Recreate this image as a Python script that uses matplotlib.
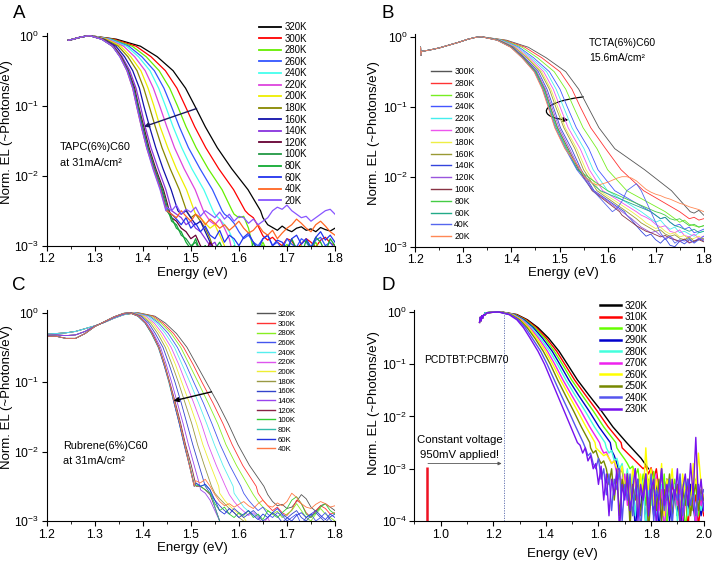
import numpy as np
import matplotlib
matplotlib.use("Agg")
import matplotlib.pyplot as plt
from matplotlib.ticker import MultipleLocator, LogLocator, NullLocator, FormatStrFormatter
from matplotlib.patches import FancyArrowPatch
from matplotlib.path import Path

plt.rcParams['font.family'] = ['Liberation Sans', 'DejaVu Sans']
plt.rcParams['mathtext.fontset'] = 'custom'
plt.rcParams['mathtext.rm'] = 'Liberation Sans'
plt.rcParams['mathtext.it'] = 'Liberation Sans:italic'

# ------------------------------------------------------------------ data
# Each curve: shared low-energy rising edge (E, log10 EL), then the energies at which the
# high-energy flank crosses fixed log10 levels, then a noisy tail (log10 EL) sampled on a grid.

# ---------- Panel A : TAPC(6%)C60
a_temps = [320, 300, 280, 260, 240, 220, 200, 180, 160, 140, 120, 100, 80, 60, 40, 20]
a_colors = ['#000000', '#ff0000', '#66ee00', '#3355ff', '#44ffee', '#dd44dd', '#eeee00', '#888800',
            '#1111aa', '#8833dd', '#660033', '#229944', '#11aa33', '#2233ee', '#ff6622', '#8855ff']
a_rise_e = [1.245, 1.255, 1.265, 1.275, 1.285]
a_rise_l = [-0.065, -0.05, -0.03, -0.015, -0.003]
a_levels = [0, -0.05, -0.15, -0.3, -0.5, -0.75, -1.0, -1.3, -1.6, -1.9, -2.2, -2.5]
a_body = [
    [1.290, 1.345, 1.395, 1.430, 1.463, 1.489, 1.508, 1.530, 1.555, 1.585, 1.619, 1.645],
    [1.290, 1.340, 1.386, 1.417, 1.447, 1.471, 1.488, 1.508, 1.531, 1.558, 1.589, 1.613],
    [1.290, 1.336, 1.378, 1.407, 1.434, 1.456, 1.472, 1.490, 1.511, 1.536, 1.565, 1.586],
    [1.290, 1.333, 1.371, 1.398, 1.424, 1.444, 1.459, 1.476, 1.495, 1.519, 1.545, 1.565],
    [1.290, 1.330, 1.366, 1.391, 1.415, 1.433, 1.447, 1.463, 1.481, 1.502, 1.527, 1.546],
    [1.290, 1.327, 1.360, 1.383, 1.405, 1.422, 1.435, 1.450, 1.466, 1.486, 1.509, 1.526],
    [1.290, 1.324, 1.354, 1.375, 1.396, 1.411, 1.423, 1.436, 1.452, 1.470, 1.491, 1.507],
    [1.290, 1.321, 1.349, 1.369, 1.388, 1.402, 1.413, 1.426, 1.440, 1.457, 1.476, 1.491],
    [1.290, 1.318, 1.344, 1.362, 1.379, 1.393, 1.402, 1.414, 1.427, 1.442, 1.459, 1.473],
    [1.290, 1.316, 1.340, 1.357, 1.373, 1.386, 1.395, 1.405, 1.417, 1.432, 1.448, 1.460],
    [1.290, 1.316, 1.339, 1.355, 1.370, 1.383, 1.391, 1.402, 1.413, 1.427, 1.443, 1.455],
    [1.290, 1.315, 1.338, 1.354, 1.369, 1.381, 1.390, 1.400, 1.411, 1.425, 1.441, 1.453],
    [1.290, 1.315, 1.337, 1.353, 1.368, 1.380, 1.388, 1.398, 1.410, 1.423, 1.439, 1.450],
    [1.290, 1.315, 1.337, 1.353, 1.368, 1.380, 1.388, 1.398, 1.409, 1.423, 1.438, 1.450],
    [1.290, 1.315, 1.337, 1.353, 1.367, 1.379, 1.387, 1.397, 1.408, 1.422, 1.437, 1.449],
    [1.290, 1.314, 1.337, 1.352, 1.367, 1.379, 1.387, 1.397, 1.408, 1.421, 1.436, 1.448],
]
a_tail_grid = np.round(np.arange(1.45, 1.8001, 0.01), 2)
a_tails = [
    [-2.6, -2.7, -2.74, -2.78, -2.72, -2.77, -2.8, -2.75, -2.73, -2.78, -2.76, -2.8, -2.74, -2.77, -2.79, -2.75],
    [-2.55, -2.6, -2.72, -2.86, -2.92, -2.88, -2.95, -3.0, -2.9, -2.93, -3.05, -2.97, -2.9, -2.95, -3.02, -2.92, -2.88, -2.96, -3.0],
    [-2.55, -2.6, -2.58, -2.75, -3.05, -3.1, -2.95, -3.1, -3.0, -3.15, -3.05, -2.98, -3.1, -3.2, -3.0, -3.1, -3.05, -2.95, -3.1, -3.0, -3.15, -3.05],
    [-2.55, -2.6, -2.68, -2.8, -2.9, -2.85, -2.95, -3.0, -2.9, -2.85, -3.0, -2.95, -3.05, -2.9, -2.98, -3.02, -2.9, -2.95, -3.05, -2.92, -2.88, -3.0, -2.95, -3.05],
    [-2.55, -2.62, -2.7, -2.8, -2.95, -3.2],
    [-2.55, -2.65, -2.7, -2.62, -2.75, -2.9, -3.2],
    [-2.55, -2.6, -2.68, -2.75, -2.7, -2.85, -3.0, -3.2],
    [-2.6, -2.55, -2.65, -2.75, -2.9, -3.1, -3.2],
    [-2.55, -2.5, -2.6, -2.7, -2.65, -2.8, -2.95, -3.2],
    [-2.55, -2.6, -2.7, -2.65, -2.75, -2.8, -2.9, -3.0, -2.95, -3.1, -3.2],
    [-2.6, -2.65, -2.75, -2.8, -2.9, -2.85, -3.0, -3.1, -2.95, -3.05, -3.2],
    [-2.65, -2.7, -2.85, -2.9, -3.0, -2.95, -3.1, -3.0, -3.15, -3.2],
    [-2.6, -2.75, -2.8, -2.95, -3.05, -2.9, -3.1, -3.0, -3.15, -3.05, -2.95, -3.1, -3.2, -3.0, -3.1, -3.05, -3.2, -2.95,
     -3.1, -3.0, -3.15, -3.05, -3.2, -3.0, -3.1, -2.9, -3.05, -3.15, -2.92, -3.05, -2.88, -2.95, -3.1, -2.9, -3.0],
    [-2.55, -2.62, -2.7, -2.6, -2.75, -2.68, -2.8, -2.72, -2.85, -2.9, -2.78, -2.95, -2.85, -2.9, -3.0, -2.88, -2.82, -2.95,
     -3.05, -2.9, -2.85, -3.0, -2.92, -2.95, -3.05, -2.9, -2.85, -2.98, -2.9, -3.02, -2.88, -2.8, -2.92, -2.85, -2.95],
    [-2.5, -2.55, -2.6, -2.5, -2.58, -2.65, -2.55, -2.6, -2.7, -2.62, -2.68, -2.75, -2.7, -2.78, -2.72, -2.65, -2.75, -2.82,
     -2.78, -2.7, -2.8, -2.85, -2.78, -2.9, -2.82, -2.75, -2.7, -2.62, -2.68, -2.75, -2.8, -2.7, -2.65, -2.72, -2.8, -2.85],
    [-2.45, -2.5, -2.42, -2.55, -2.48, -2.52, -2.45, -2.58, -2.5, -2.55, -2.6, -2.52, -2.62, -2.55, -2.65, -2.58, -2.6, -2.68,
     -2.62, -2.7, -2.65, -2.6, -2.5, -2.45, -2.48, -2.42, -2.5, -2.55, -2.6, -2.58, -2.65, -2.6, -2.55, -2.5, -2.48, -2.55],
]

# ---------- Panel B : TCTA(6%)C60
b_temps = [300, 280, 260, 240, 220, 200, 180, 160, 140, 120, 100, 80, 60, 40, 20]
b_colors = ['#555555', '#ff3333', '#77ee22', '#4455ff', '#44eeee', '#ee55ee', '#eeee44', '#999933',
            '#3344dd', '#9955dd', '#883344', '#44cc44', '#22aa88', '#5566ee', '#ff8855']
b_rise_e = [1.211, 1.2115, 1.213, 1.23, 1.25, 1.27, 1.29, 1.31, 1.325]
b_rise_l = [-0.15, -0.27, -0.21, -0.19, -0.16, -0.12, -0.08, -0.035, -0.01]
b_levels = [0, -0.05, -0.15, -0.3, -0.5, -0.75, -1.0, -1.3, -1.6, -1.9, -2.2, -2.5]
b_body = [
    [1.337, 1.390, 1.435, 1.472, 1.513, 1.540, 1.559, 1.582, 1.615, 1.677, 1.733, 1.772],
    [1.337, 1.386, 1.428, 1.463, 1.501, 1.526, 1.543, 1.565, 1.596, 1.628, 1.675, 1.750],
    [1.337, 1.383, 1.422, 1.454, 1.489, 1.513, 1.529, 1.549, 1.578, 1.600, 1.640, 1.720],
    [1.337, 1.380, 1.416, 1.446, 1.479, 1.501, 1.516, 1.535, 1.561, 1.580, 1.615, 1.690],
    [1.337, 1.378, 1.413, 1.441, 1.473, 1.493, 1.508, 1.526, 1.551, 1.570, 1.600, 1.670],
    [1.337, 1.376, 1.410, 1.437, 1.467, 1.487, 1.501, 1.518, 1.543, 1.562, 1.590, 1.660],
    [1.337, 1.375, 1.407, 1.434, 1.463, 1.482, 1.496, 1.512, 1.536, 1.555, 1.583, 1.650],
    [1.337, 1.374, 1.406, 1.432, 1.460, 1.479, 1.492, 1.509, 1.532, 1.550, 1.578, 1.640],
    [1.337, 1.373, 1.403, 1.428, 1.456, 1.474, 1.487, 1.502, 1.525, 1.545, 1.572, 1.635],
    [1.337, 1.372, 1.402, 1.426, 1.453, 1.471, 1.484, 1.499, 1.521, 1.542, 1.570, 1.630],
    [1.337, 1.372, 1.401, 1.425, 1.451, 1.469, 1.481, 1.496, 1.518, 1.540, 1.568, 1.625],
    [1.337, 1.371, 1.400, 1.424, 1.451, 1.468, 1.480, 1.495, 1.516, 1.538, 1.600, 1.700],
    [1.337, 1.371, 1.399, 1.423, 1.449, 1.466, 1.478, 1.493, 1.514, 1.537, 1.585, 1.690],
    [1.337, 1.370, 1.399, 1.422, 1.448, 1.465, 1.477, 1.491, 1.512, 1.536, 1.570, 1.610],
    [1.337, 1.370, 1.398, 1.422, 1.447, 1.464, 1.476, 1.490, 1.511, 1.545],
]
b_tail_grid = np.round(np.arange(1.55, 1.8001, 0.01), 2)
b_tails = [
    [-2.52, -2.48, -2.55],
    [-2.55, -2.6, -2.58, -2.62, -2.6],
    [-2.55, -2.6, -2.65, -2.62, -2.68, -2.7, -2.72, -2.7],
    [-2.55, -2.6, -2.58, -2.65, -2.7, -2.68, -2.75, -2.72, -2.8, -2.78, -2.75],
    [-2.55, -2.6, -2.65, -2.62, -2.7, -2.75, -2.72, -2.8, -2.78, -2.82, -2.85, -2.8, -2.78],
    [-2.55, -2.58, -2.62, -2.68, -2.72, -2.7, -2.78, -2.8, -2.76, -2.84, -2.86, -2.82, -2.88, -2.85],
    [-2.55, -2.6, -2.66, -2.7, -2.74, -2.72, -2.78, -2.82, -2.8, -2.86, -2.84, -2.9, -2.88, -2.85, -2.9],
    [-2.55, -2.6, -2.66, -2.7, -2.74, -2.78, -2.76, -2.82, -2.85, -2.83, -2.88, -2.9, -2.86, -2.92, -2.9, -2.88],
    [-2.55, -2.62, -2.7, -2.78, -2.85, -2.82, -2.9, -2.95, -2.88, -2.98, -3.0, -2.92, -2.96, -2.9, -2.94, -2.88, -2.92],
    [-2.55, -2.6, -2.66, -2.72, -2.76, -2.8, -2.78, -2.84, -2.88, -2.85, -2.9, -2.93, -2.9, -2.95, -2.92, -2.88, -2.9],
    [-2.55, -2.6, -2.65, -2.7, -2.74, -2.78, -2.8, -2.83, -2.86, -2.84, -2.88, -2.9, -2.92, -2.89, -2.94, -2.92, -2.9, -2.93],
    [-2.52, -2.55, -2.6, -2.62, -2.6, -2.65, -2.7, -2.68, -2.72, -2.7],
    [-2.55, -2.6, -2.58, -2.65, -2.7, -2.72, -2.75, -2.78, -2.75, -2.8, -2.78],
    [-2.45, -2.35, -2.2, -2.15, -2.1, -2.2, -2.35, -2.5, -2.65, -2.8, -2.9, -2.85, -2.95, -2.9, -2.92, -2.88, -2.95, -2.9, -2.85],
    [-1.98, -2.05, -2.1, -2.12, -2.1, -2.08, -2.05, -2.02, -2.0, -2.0, -2.02, -2.06, -2.12, -2.18, -2.22, -2.25, -2.27,
     -2.3, -2.32, -2.35, -2.38, -2.4, -2.43, -2.45, -2.47, -2.5],
]

# ---------- Panel C : Rubrene(6%)C60
c_temps = [320, 300, 280, 260, 240, 220, 200, 180, 160, 140, 120, 100, 80, 60, 40]
c_colors = ['#555555', '#ff3333', '#88ee22', '#4455ee', '#55eeee', '#dd55ee', '#eeee33', '#999944',
            '#3344cc', '#9944ee', '#882244', '#33cc33', '#33bbaa', '#2233dd', '#ff7744']
c_rise_e = [1.20, 1.22, 1.24, 1.26, 1.28, 1.30, 1.32, 1.34, 1.36]
c_rise_hot = [-0.31, -0.30, -0.29, -0.27, -0.23, -0.19, -0.14, -0.08, -0.03]
c_rise_mid = [-0.325, -0.32, -0.33, -0.32, -0.27, -0.195, -0.135, -0.07, -0.02]
c_rise_cold = [-0.34, -0.34, -0.37, -0.37, -0.30, -0.20, -0.13, -0.06, -0.01]
c_rise_group = [0, 0, 0, 0, 0, 1, 1, 1, 1, 1, 2, 2, 2, 2, 2]
c_levels = [0, -0.05, -0.15, -0.3, -0.5, -0.75, -1.0, -1.3, -1.6, -1.9, -2.2, -2.5]
c_body = [
    [1.390, 1.425, 1.447, 1.470, 1.492, 1.512, 1.532, 1.556, 1.578, 1.598, 1.622, 1.652],
    [1.388, 1.421, 1.442, 1.464, 1.485, 1.505, 1.523, 1.546, 1.567, 1.586, 1.608, 1.636],
    [1.386, 1.417, 1.438, 1.459, 1.479, 1.497, 1.515, 1.536, 1.556, 1.573, 1.595, 1.620],
    [1.384, 1.414, 1.433, 1.453, 1.472, 1.490, 1.506, 1.526, 1.544, 1.561, 1.581, 1.604],
    [1.382, 1.410, 1.429, 1.447, 1.466, 1.482, 1.498, 1.516, 1.533, 1.549, 1.567, 1.588],
    [1.380, 1.406, 1.424, 1.441, 1.459, 1.475, 1.489, 1.506, 1.522, 1.536, 1.553, 1.572],
    [1.378, 1.402, 1.420, 1.436, 1.453, 1.468, 1.481, 1.497, 1.512, 1.525, 1.541, 1.558],
    [1.377, 1.399, 1.416, 1.431, 1.447, 1.461, 1.474, 1.488, 1.502, 1.514, 1.528, 1.543],
    [1.375, 1.396, 1.412, 1.426, 1.442, 1.455, 1.467, 1.480, 1.492, 1.504, 1.517, 1.530],
    [1.373, 1.393, 1.408, 1.422, 1.437, 1.449, 1.460, 1.472, 1.484, 1.495, 1.507, 1.519],
    [1.373, 1.391, 1.406, 1.420, 1.434, 1.446, 1.456, 1.468, 1.479, 1.489, 1.501, 1.511],
    [1.372, 1.390, 1.405, 1.418, 1.433, 1.445, 1.455, 1.466, 1.477, 1.487, 1.498, 1.508],
    [1.372, 1.390, 1.405, 1.418, 1.432, 1.444, 1.454, 1.465, 1.476, 1.486, 1.497, 1.507],
    [1.372, 1.390, 1.405, 1.419, 1.433, 1.444, 1.455, 1.465, 1.476, 1.486, 1.497, 1.507],
    [1.372, 1.391, 1.406, 1.419, 1.433, 1.445, 1.455, 1.466, 1.477, 1.487, 1.497, 1.507],
]
c_tail_grid = np.round(np.arange(1.50, 1.8001, 0.01), 2)
c_tails = [
    [-2.62, -2.72, -2.78, -2.76, -2.82, -2.8, -2.72, -2.62, -2.68, -2.8, -2.86, -2.78, -2.75, -2.8, -2.85],
    [-2.6, -2.7, -2.78, -2.85, -2.8, -2.88, -2.92, -2.84, -2.7, -2.75, -2.88, -2.95, -2.85, -2.78, -2.82, -2.9, -2.88],
    [-2.62, -2.72, -2.8, -2.85, -2.9, -2.86, -2.95, -2.9, -2.85, -2.75, -2.85, -2.95, -3.0, -2.9, -2.82, -2.9, -2.95, -3.0],
    [-2.6, -2.7, -2.78, -2.85, -2.8, -2.9, -2.95, -2.88, -2.92, -3.0, -2.95, -2.9, -3.05, -2.95, -2.9, -3.0, -2.95, -2.88, -2.98, -3.05],
    [-2.6, -2.7, -2.8, -2.86, -2.9, -2.95, -3.05, -3.1, -3.2],
    [-2.62, -2.72, -2.8, -2.86, -2.92, -2.88, -2.95, -3.05, -2.95, -3.1, -3.2],
    [-2.6, -2.7, -2.78, -2.84, -2.9, -2.95, -3.05, -3.2],
    [-2.6, -2.68, -2.75, -2.82, -2.88, -2.95, -3.0, -3.1, -3.2],
    [-2.6, -2.7, -2.78, -2.85, -2.9, -2.82, -2.88, -2.95, -2.9, -2.85, -2.92, -3.0, -2.95, -2.88, -2.93, -3.02, -2.96,
     -2.9, -2.85, -2.95, -3.0, -2.92, -2.88, -2.95, -3.02, -2.94, -2.9],
    [-2.55, -2.6, -2.7, -2.85, -3.0, -3.1, -3.2],
    [-2.5, -2.55, -2.62, -2.8, -3.0, -3.2],
    [-2.48, -2.5, -2.55, -2.6, -2.75, -2.85, -2.8, -2.9, -2.95, -2.88, -2.92, -2.85, -2.95, -2.9, -2.98, -2.85, -2.9,
     -2.95, -2.88, -2.82, -2.7, -2.65, -2.75, -2.9, -2.95, -2.88, -2.8, -2.75, -2.85, -2.9],
    [-2.45, -2.5, -2.48, -2.55, -2.8, -3.0, -3.2],
    [-2.45, -2.5, -2.47, -2.55, -2.7, -2.85, -2.9, -2.82, -2.88, -2.95, -2.9, -2.85, -2.92, -2.98, -2.9, -2.95, -2.88,
     -2.82, -2.9, -2.95, -3.0, -2.92, -2.88, -2.95, -2.9, -2.85, -2.92, -2.98, -2.9, -2.95],
    [-2.42, -2.45, -2.4, -2.5, -2.62, -2.72, -2.78, -2.75, -2.8, -2.76, -2.72, -2.78, -2.82, -2.75, -2.7, -2.78, -2.8,
     -2.74, -2.78, -2.72, -2.6, -2.66, -2.75, -2.8, -2.82, -2.76, -2.72, -2.75, -2.8, -2.78],
]

# ---------- Panel D : PCDTBT:PCBM70
d_temps = [320, 310, 300, 290, 280, 270, 260, 250, 240, 230]
d_colors = ['#000000', '#ff0000', '#66ff00', '#0000cc', '#44ffdd', '#ee22ee', '#ffff00', '#778800', '#5555ee', '#7711ee']
d_rise_hot_e = [1.168, 1.18, 1.195, 1.21]
d_rise_hot_l = [-0.02, -0.012, -0.005, -0.002]
d_rise_cold_e = [1.148, 1.151, 1.154, 1.157, 1.16, 1.164, 1.168, 1.175, 1.19, 1.205]
d_rise_cold_l = [-0.2, -0.1, -0.17, -0.07, -0.12, -0.05, -0.06, -0.02, -0.01, -0.003]
d_rise_group = [0, 0, 0, 0, 0, 1, 1, 1, 1, 1]
d_levels = [0, -0.05, -0.15, -0.3, -0.5, -0.75, -1.0, -1.3, -1.6, -1.9, -2.2, -2.5, -2.8, -3.0]
d_body = [
    [1.230, 1.290, 1.330, 1.370, 1.410, 1.450, 1.482, 1.520, 1.565, 1.612, 1.655, 1.707, 1.762, 1.790],
    [1.229, 1.287, 1.326, 1.364, 1.402, 1.441, 1.472, 1.509, 1.552, 1.596, 1.637, 1.686],
    [1.228, 1.283, 1.321, 1.358, 1.395, 1.432, 1.463, 1.498, 1.539, 1.581, 1.620, 1.666],
    [1.227, 1.280, 1.317, 1.352, 1.387, 1.424, 1.453, 1.487, 1.525, 1.565, 1.602, 1.645],
    [1.226, 1.277, 1.312, 1.346, 1.379, 1.415, 1.444, 1.476, 1.512, 1.550, 1.585, 1.625],
    [1.225, 1.274, 1.308, 1.340, 1.372, 1.406, 1.434, 1.465, 1.499, 1.534, 1.567, 1.604],
    [1.224, 1.271, 1.304, 1.335, 1.365, 1.399, 1.426, 1.456, 1.488, 1.521, 1.553, 1.587],
    [1.223, 1.268, 1.300, 1.329, 1.358, 1.390, 1.417, 1.445, 1.475, 1.506, 1.535, 1.567],
    [1.221, 1.264, 1.295, 1.322, 1.348, 1.380, 1.405, 1.432, 1.459, 1.487, 1.514, 1.542],
    [1.220, 1.260, 1.290, 1.315, 1.340, 1.370, 1.395, 1.420, 1.445, 1.470, 1.495, 1.520],
]
d_tail_grid = np.round(np.arange(1.40, 2.0001, 0.01), 2)
d_tails = [
    [],
    [-2.6, -2.65, -2.7, -2.75, -2.8, -2.85, -2.9, -2.95, -3.0, -2.95, -3.1, -2.98, -3.2, -3.0, -3.4, -3.1, -3.6, -3.2,
     -3.8, -3.3, -3.5, -3.9, -3.2, -3.7, -3.4, -4.2, -3.3, -3.8, -3.5, -4.1, -3.6, -3.9],
    [-2.6, -2.68, -2.75, -2.82, -2.9, -3.0, -2.95, -3.15, -3.0, -3.4, -3.1, -3.7, -3.2, -3.5, -3.05, -3.8, -3.3, -3.6,
     -3.1, -4.1, -3.4, -3.7, -3.2, -3.9, -3.5, -3.3, -4.2, -3.6, -3.4, -3.8, -3.2, -3.9, -3.5, -3.7],
    [-2.65, -2.75, -2.9, -3.1, -3.0, -3.4, -3.2, -3.9, -3.3, -4.2, -3.5, -3.8, -3.2, -4.1, -3.6, -3.4, -3.9, -3.3, -4.2,
     -3.5, -3.7, -3.2, -4.0, -3.6, -3.3, -3.9, -3.5, -4.2, -3.4, -3.8, -3.3, -3.7, -4.1, -3.5, -3.9, -3.6],
    [-2.6, -2.7, -2.65, -2.85, -2.8, -3.0, -2.9, -3.3, -3.0, -3.6, -3.1, -3.9, -3.3, -3.5, -3.2, -4.1, -3.4, -3.7, -3.3,
     -3.9, -3.5, -3.3, -4.2, -3.6, -3.4, -3.8, -3.3, -4.0, -3.5, -3.7, -3.2, -3.9, -3.6, -3.4, -4.1, -3.5, -3.8, -3.6],
    [-2.6, -2.7, -2.68, -2.8, -2.9, -2.85, -3.1, -3.0, -3.4, -3.1, -3.7, -3.2, -3.5, -3.0, -3.9, -3.3, -3.6, -3.2, -4.1,
     -3.4, -3.6, -3.1, -3.8, -3.4, -4.2, -3.5, -3.3, -3.9, -3.4, -3.7, -3.2, -4.0, -3.6, -3.3, -3.8, -3.5, -4.1, -3.4, -3.7, -3.5],
    [-2.6, -2.65, -2.7, -2.75, -2.72, -2.8, -2.9, -2.85, -3.0, -3.2, -2.95, -3.4, -3.1, -3.6, -3.0, -3.3, -3.8, -3.1,
     -3.5, -2.6, -3.4, -3.0, -3.7, -3.2, -3.5, -2.9, -3.9, -3.2, -3.4, -3.0, -3.6, -3.3, -4.0, -3.1, -3.5, -3.2, -3.8,
     -2.9, -3.4, -2.7, -3.3, -3.6],
    [-2.6, -2.7, -2.65, -2.8, -2.9, -2.85, -3.0, -3.3, -3.0, -3.6, -3.1, -3.9, -3.2, -3.5, -3.1, -4.1, -3.3, -3.6, -3.2,
     -3.9, -3.4, -3.1, -4.2, -3.5, -3.3, -3.8, -3.2, -4.0, -3.4, -3.6, -3.1, -3.9, -3.5, -3.3, -4.1, -3.4, -3.7, -3.2,
     -3.9, -3.5, -3.3, -3.8, -3.4, -3.6],
    [-2.6, -2.75, -2.7, -2.9, -3.0, -2.8, -3.2, -3.0, -3.5, -3.1, -3.8, -3.2, -3.4, -3.0, -4.0, -3.3, -3.6, -3.1, -3.9,
     -3.4, -3.2, -4.2, -3.5, -3.3, -3.7, -3.1, -4.0, -3.4, -3.6, -3.0, -3.8, -3.5, -3.2, -4.1, -3.4, -3.6, -3.1, -3.9,
     -3.5, -3.2, -3.7, -3.4, -3.9, -3.3, -3.6, -3.4],
    [-2.55, -2.7, -2.6, -2.85, -2.75, -3.0, -2.9, -3.3, -2.95, -3.6, -3.1, -3.9, -3.2, -3.5, -3.0, -4.2, -3.3, -3.6, -3.1,
     -3.8, -3.4, -3.0, -4.0, -3.3, -3.6, -3.1, -3.9, -3.4, -3.2, -4.1, -3.5, -3.0, -3.7, -3.3, -3.9, -3.2, -3.6, -3.0,
     -4.0, -3.4, -3.1, -3.7, -2.9, -3.5, -2.4, -3.6, -3.2, -3.8],
]
d_bias_e = 0.95          # applied voltage marker (eV)
d_bias_top = 1.1e-3
d_peak_mark = 1.24

# ------------------------------------------------------------------ drawing
W, H = 714, 562
fig = plt.figure(figsize=(W / 100, H / 100), dpi=100)


def px_axes(x0, y0, x1, y1):
    return fig.add_axes([x0 / W, 1 - y1 / H, (x1 - x0) / W, (y1 - y0) / H])


def style(ax, xlim, ylim, xmaj, xmin):
    ax.set_yscale('log')
    ax.set_xlim(*xlim)
    ax.set_ylim(*ylim)
    ax.xaxis.set_major_locator(MultipleLocator(xmaj))
    ax.xaxis.set_minor_locator(MultipleLocator(xmin))
    ax.yaxis.set_major_locator(LogLocator(base=10, numticks=10))
    ax.yaxis.set_minor_locator(NullLocator())
    for s in ['top', 'right']:
        ax.spines[s].set_visible(False)
    for s in ['left', 'bottom']:
        ax.spines[s].set_linewidth(0.8)
    ax.tick_params(which='major', direction='out', length=3.5, width=0.8, labelsize=8.7, pad=2)
    ax.tick_params(which='minor', direction='out', length=2, width=0.6)
    ax.set_xlabel('Energy (eV)', fontsize=9.5)
    ax.set_ylabel('Norm. EL (~Photons/eV)', fontsize=9.5)
    ax.xaxis.label.set_va('center')
    ax.yaxis.label.set_va('center')


def draw(ax, rises, groups, levels, bodies, tgrid, tails, colors, temps, lw):
    for i in range(len(bodies)):
        re_, rl_ = rises[groups[i]]
        be = np.array(bodies[i])
        bl = np.array(levels[:len(be)])
        te = tgrid[tgrid > be[-1] + 1e-6]
        n = min(len(te), len(tails[i]))
        e = np.concatenate([re_, be, te[:n]])
        lv = np.concatenate([rl_, bl, np.array(tails[i][:n], dtype=float)])
        ax.plot(e, 10.0 ** lv, color=colors[i], lw=lw, label=f'{temps[i]}K', solid_joinstyle='round')


def legend(ax, x, y, fs, ls, hl, lw=None):
    leg = ax.legend(loc='upper left', bbox_to_anchor=(x / W, 1 - y / H), bbox_transform=fig.transFigure,
                    frameon=False, fontsize=fs, labelspacing=ls, handlelength=hl, handletextpad=0.4,
                    borderpad=0, borderaxespad=0)
    if lw:
        for h in leg.get_lines():
            h.set_linewidth(lw)
    return leg


# ---- A
axA = px_axes(46.7, 32.8, 335.0, 245.7)
style(axA, (1.2, 1.8), (1e-3, 1.1), 0.1, 0.05)
draw(axA, [(a_rise_e, a_rise_l)], [0] * len(a_body), a_levels, a_body, a_tail_grid, a_tails,
     a_colors, a_temps, 0.9)
legend(axA, 258.7, 22.0, 6.9, 0.165, 2.3, 1.3)
axA.text(1.228, 10 ** -1.586, 'TAPC(6%)C60', fontsize=7.8, va='center', ha='left')
axA.text(1.228, 10 ** -1.814, 'at 31mA/cm²', fontsize=7.8, va='center', ha='left')
axA.annotate('', xy=(1.4025, 10 ** -1.30), xytext=(1.512, 10 ** -1.04),
             arrowprops=dict(arrowstyle='-|>', color='#1a1a5e', lw=1.0, mutation_scale=7,
                             shrinkA=0, shrinkB=0))
axA.xaxis.set_label_coords(0.507, -0.127)
axA.yaxis.set_label_coords(-0.137, 0.533)

# ---- B
axB = px_axes(415.3, 33.8, 703.7, 246.7)
style(axB, (1.2, 1.8), (1e-3, 1.1), 0.1, 0.05)
draw(axB, [(b_rise_e, b_rise_l)], [0] * len(b_body), b_levels, b_body, b_tail_grid, b_tails,
     b_colors, b_temps, 0.6)
legend(axB, 431.0, 67.0, 6.2, 0.326, 2.3, 1.0)
axB.text(1.561, 10 ** -0.094, 'TCTA(6%)C60', fontsize=7.5, va='center', ha='left')
axB.text(1.561, 10 ** -0.31, '15.6mA/cm²', fontsize=7.5, va='center', ha='left')
arc = Path([(1.5495, 10 ** -0.86), (1.452, 10 ** -0.94), (1.455, 10 ** -1.16), (1.5183, 10 ** -1.19)],
           [Path.MOVETO, Path.CURVE4, Path.CURVE4, Path.CURVE4])
axB.add_patch(FancyArrowPatch(path=arc, arrowstyle='-|>', mutation_scale=7, lw=0.9, color='k',
                              transform=axB.transData))
axB.xaxis.set_label_coords(0.515, -0.123)
axB.yaxis.set_label_coords(-0.143, 0.532)

# ---- C
axC = px_axes(46.7, 309.8, 335.0, 521.0)
style(axC, (1.2, 1.8), (1e-3, 1.1), 0.1, 0.05)
draw(axC, [(c_rise_e, c_rise_hot), (c_rise_e, c_rise_mid), (c_rise_e, c_rise_cold)], c_rise_group,
     c_levels, c_body, c_tail_grid, c_tails, c_colors, c_temps, 0.6)
legend(axC, 256.7, 310.5, 5.6, 0.285, 2.3, 1.0)
axC.text(1.2345, 10 ** -1.92, 'Rubrene(6%)C60', fontsize=7.8, va='center', ha='left')
axC.text(1.2345, 10 ** -2.14, 'at 31mA/cm²', fontsize=7.8, va='center', ha='left')
axC.annotate('', xy=(1.464, 10 ** -1.27), xytext=(1.543, 10 ** -1.14),
             arrowprops=dict(arrowstyle='-|>', color='k', lw=1.0, mutation_scale=7, shrinkA=0, shrinkB=0))
axC.xaxis.set_label_coords(0.507, -0.126)
axC.yaxis.set_label_coords(-0.137, 0.588)

# ---- D
axD = px_axes(414.3, 309.8, 703.7, 521.0)
style(axD, (0.9, 2.0), (1e-4, 1.1), 0.2, 0.1)
axD.xaxis.set_major_formatter(FormatStrFormatter('%.1f'))
draw(axD, [(d_rise_hot_e, d_rise_hot_l), (d_rise_cold_e, d_rise_cold_l)], d_rise_group, d_levels,
     d_body, d_tail_grid, d_tails, d_colors, d_temps, 1.0)
legend(axD, 600.3, 300.8, 7.1, 0.15, 2.1, 1.8)
axD.plot([d_peak_mark, d_peak_mark], [1e-4, 1.0], ls=(0, (1.5, 1.5)), color='#5566aa', lw=0.6)
axD.plot([d_bias_e, d_bias_e], [1e-4, d_bias_top], color='#ee1122', lw=1.8, solid_capstyle='butt')
axD.annotate('', xy=(1.232, 10 ** -2.90), xytext=(0.952, 10 ** -2.90),
             arrowprops=dict(arrowstyle='-|>', color='#555555', lw=0.6, mutation_scale=5,
                             shrinkA=0, shrinkB=0))
axD.text(0.936, 10 ** -0.91, 'PCDTBT:PCBM70', fontsize=7.5, va='center', ha='left')
axD.text(1.072, 10 ** -2.45, 'Constant voltage', fontsize=8.2, va='center', ha='center')
axD.text(1.072, 10 ** -2.74, '950mV applied!', fontsize=8.2, va='center', ha='center')
axD.xaxis.set_label_coords(0.51, -0.155)
axD.yaxis.set_label_coords(-0.14, 0.56)

# panel letters
for lab, (x, y) in zip('ABCD', [(19, 14), (388, 13), (19, 285), (388, 285)]):
    fig.text(x / W, 1 - y / H, lab, fontsize=13.5, ha='center', va='center')

fig.savefig('out.png', dpi=100)
